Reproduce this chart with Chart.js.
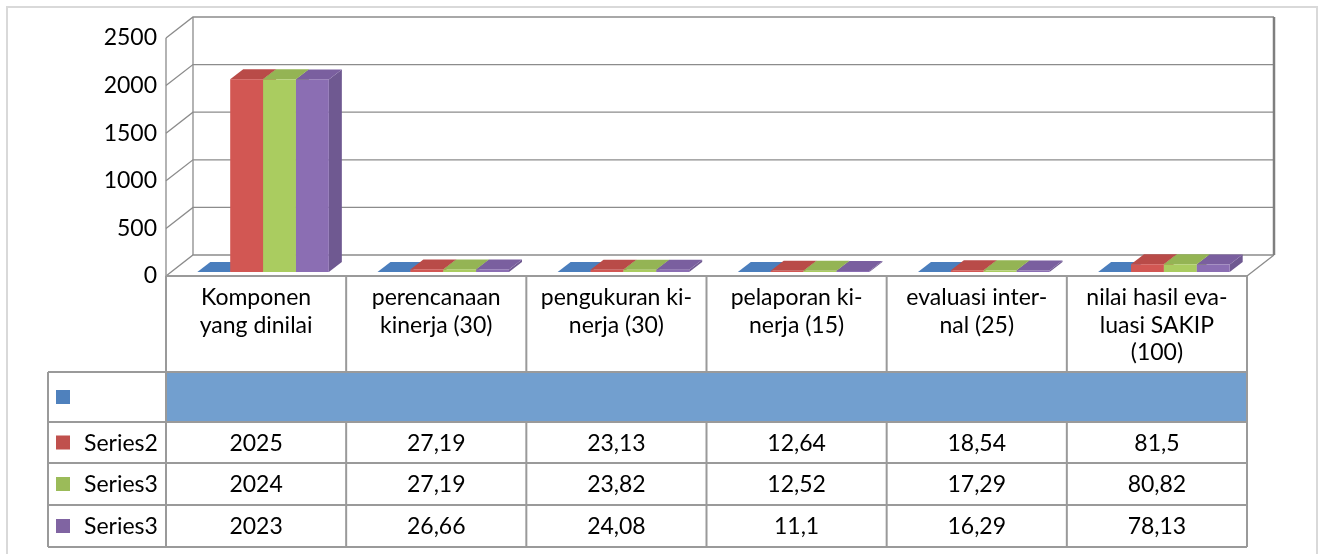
<!DOCTYPE html>
<html>
<head>
<meta charset="utf-8">
<script src="https://cdn.jsdelivr.net/npm/chart.js@4/dist/chart.umd.min.js"></script>
<style>
html, body { margin: 0; padding: 0; background: #fff; }
#wrap { position: relative; width: 1319px; height: 554px; }
</style>
</head>
<body>
<div id="wrap"><canvas id="chart"></canvas></div>
<script>
// data
const categories = [
    ['Komponen', 'yang dinilai'],
    ['perencanaan', 'kinerja (30)'],
    ['pengukuran ki-', 'nerja (30)'],
    ['pelaporan ki-', 'nerja (15)'],
    ['evaluasi inter-', 'nal (25)'],
    ['nilai hasil eva-', 'luasi SAKIP', '(100)']
];
const seriesNames = ['', 'Series2', 'Series3', 'Series3'];
const series1 = [0, 0, 0, 0, 0, 0];
const series2 = [2025, 27.19, 23.13, 12.64, 18.54, 81.5];
const series3 = [2024, 27.19, 23.82, 12.52, 17.29, 80.82];
const series4 = [2023, 26.66, 24.08, 11.1, 16.29, 78.13];
const yMax = 2500;
const yStep = 500;

// colours: front, top, side, legend key
const palette = [
    { front: '#4f81bd', top: '#4a7ebd', side: '#3f6a9e', key: '#4f81bd' },
    { front: '#d25753', top: '#b94b48', side: '#a8433f', key: '#c0504d' },
    { front: '#aacc60', top: '#94b454', side: '#86a24b', key: '#9bbb59' },
    { front: '#8b6eb3', top: '#7a5f9f', side: '#6f5991', key: '#8064a2' }
];

const FONT = { family: 'Lato, "Open Sans", sans-serif', size: 23 };
const WALL = { dx: 27, dy: -21 };
const BAR = { ox: 7, oy: -4, dx: 13, dy: -10 };
const TABLE = { left: 48, rows: [372, 422, 463, 505, 547] };

function fmt(v) {
    return String(v).replace('.', ',');
}

const box3d = {
    id: 'box3d',
    beforeDraw(chart) {
        const c = chart.ctx;
        const ca = chart.chartArea;
        const y = chart.scales.y;
        c.save();
        c.fillStyle = '#fff';
        c.fillRect(0, 0, chart.width, chart.height);
        // outer frame
        c.strokeStyle = '#d9d9d9';
        c.lineWidth = 2;
        c.strokeRect(7, 7, 1310, 580);

        // walls + grid
        c.strokeStyle = '#8c8c8c';
        c.lineWidth = 1.3;
        for (let v = 0; v <= yMax; v += yStep) {
            const py = y.getPixelForValue(v);
            c.beginPath();
            c.moveTo(ca.left, py);
            c.lineTo(ca.left + WALL.dx, py + WALL.dy);
            c.lineTo(ca.right + WALL.dx, py + WALL.dy);
            c.stroke();
        }
        c.beginPath();
        c.moveTo(ca.left + WALL.dx, ca.top + WALL.dy);
        c.lineTo(ca.left + WALL.dx, ca.bottom + WALL.dy);
        c.moveTo(ca.left, ca.top);
        c.lineTo(ca.left, ca.bottom);
        c.moveTo(ca.right, ca.bottom);
        c.lineTo(ca.right + WALL.dx, ca.bottom + WALL.dy);
        c.stroke();
        c.strokeStyle = '#7f7f7f';
        c.lineWidth = 2.5;
        c.beginPath();
        c.moveTo(ca.right + WALL.dx, ca.top + WALL.dy);
        c.lineTo(ca.right + WALL.dx, ca.bottom + WALL.dy);
        c.stroke();
        c.restore();
    },
    beforeDatasetsDraw(chart) {
        const c = chart.ctx;
        c.save();
        chart.data.datasets.forEach((ds, i) => {
            const col = palette[i];
            chart.getDatasetMeta(i).data.forEach(bar => {
                const x0 = bar.x - bar.width / 2 + BAR.ox;
                const x1 = bar.x + bar.width / 2 + BAR.ox;
                const top = Math.min(bar.y, bar.base) + BAR.oy;
                const bot = Math.max(bar.y, bar.base) + BAR.oy;
                // side
                c.fillStyle = col.side;
                c.beginPath();
                c.moveTo(x1, top);
                c.lineTo(x1 + BAR.dx, top + BAR.dy);
                c.lineTo(x1 + BAR.dx, bot + BAR.dy);
                c.lineTo(x1, bot);
                c.closePath();
                c.fill();
                // top
                c.fillStyle = col.top;
                c.beginPath();
                c.moveTo(x0, top);
                c.lineTo(x0 + BAR.dx, top + BAR.dy);
                c.lineTo(x1 + BAR.dx, top + BAR.dy);
                c.lineTo(x1, top);
                c.closePath();
                c.fill();
                // front
                c.fillStyle = col.front;
                c.fillRect(x0, top, x1 - x0, bot - top);
            });
        });
        c.restore();
        return false;
    },
    afterDraw(chart) {
        const c = chart.ctx;
        const ca = chart.chartArea;
        const xs = chart.scales.x;
        const n = categories.length;
        const half = (ca.right - ca.left) / n / 2;
        const rows = TABLE.rows;
        const allSeries = [series1, series2, series3, series4];
        c.save();

        // blue row fill
        c.fillStyle = '#729fcf';
        c.fillRect(ca.left, rows[0], ca.right - ca.left, rows[1] - rows[0]);

        c.strokeStyle = '#9a9a9a';
        c.lineWidth = 2;
        c.beginPath();
        // horizontal
        c.moveTo(ca.left, ca.bottom);
        c.lineTo(ca.right, ca.bottom);
        rows.forEach(ry => {
            c.moveTo(TABLE.left, ry);
            c.lineTo(ca.right, ry);
        });
        // vertical
        c.moveTo(TABLE.left, rows[0]);
        c.lineTo(TABLE.left, rows[rows.length - 1]);
        c.moveTo(ca.left, ca.bottom);
        c.lineTo(ca.left, rows[rows.length - 1]);
        for (let i = 0; i < n; i++) {
            const xr = xs.getPixelForValue(i) + half;
            c.moveTo(xr, ca.bottom);
            c.lineTo(xr, rows[0]);
            c.moveTo(xr, rows[1]);
            c.lineTo(xr, rows[rows.length - 1]);
        }
        c.moveTo(ca.right, rows[0]);
        c.lineTo(ca.right, rows[1]);
        c.stroke();

        // legend + values
        c.font = FONT.size + 'px ' + FONT.family;
        c.textBaseline = 'middle';
        allSeries.forEach((vals, s) => {
            const cy = (rows[s] + rows[s + 1]) / 2;
            c.fillStyle = palette[s].key;
            c.fillRect(56, cy - 7, 14, 14);
            c.fillStyle = '#000';
            c.textAlign = 'left';
            c.fillText(seriesNames[s], 84, cy + 1);
            if (s === 0) return;
            c.textAlign = 'center';
            vals.forEach((v, i) => {
                c.fillText(fmt(v), xs.getPixelForValue(i), cy + 1);
            });
        });
        c.restore();
    }
};

const allData = [series1, series2, series3, series4];
new Chart(document.getElementById('chart'), {
    type: 'bar',
    data: {
        labels: categories,
        datasets: allData.map((d, i) => ({
            label: seriesNames[i] || 'Series1',
            data: d,
            backgroundColor: palette[i].front,
            categoryPercentage: 0.73,
            barPercentage: 1.0
        }))
    },
    options: {
        responsive: true, maintainAspectRatio: false,
        animation: false,
        layout: { padding: { left: 0, top: 38, right: 72, bottom: 0 } },
        plugins: { legend: { display: false }, tooltip: { enabled: false } },
        scales: {
            x: {
                grid: { display: false, drawTicks: false },
                border: { display: false },
                ticks: { color: '#000', font: { ...FONT, lineHeight: 1.2 }, padding: 8, maxRotation: 0, autoSkip: false },
                afterFit: s => { s.height = 278; }
            },
            y: {
                min: 0, max: yMax,
                grid: { display: false, drawTicks: false },
                border: { display: false },
                ticks: { stepSize: yStep, color: '#000', font: FONT, padding: 9, callback: v => String(v) },
                afterFit: s => { s.width = 166; }
            }
        }
    },
    plugins: [box3d]
});
</script>
</body>
</html>
